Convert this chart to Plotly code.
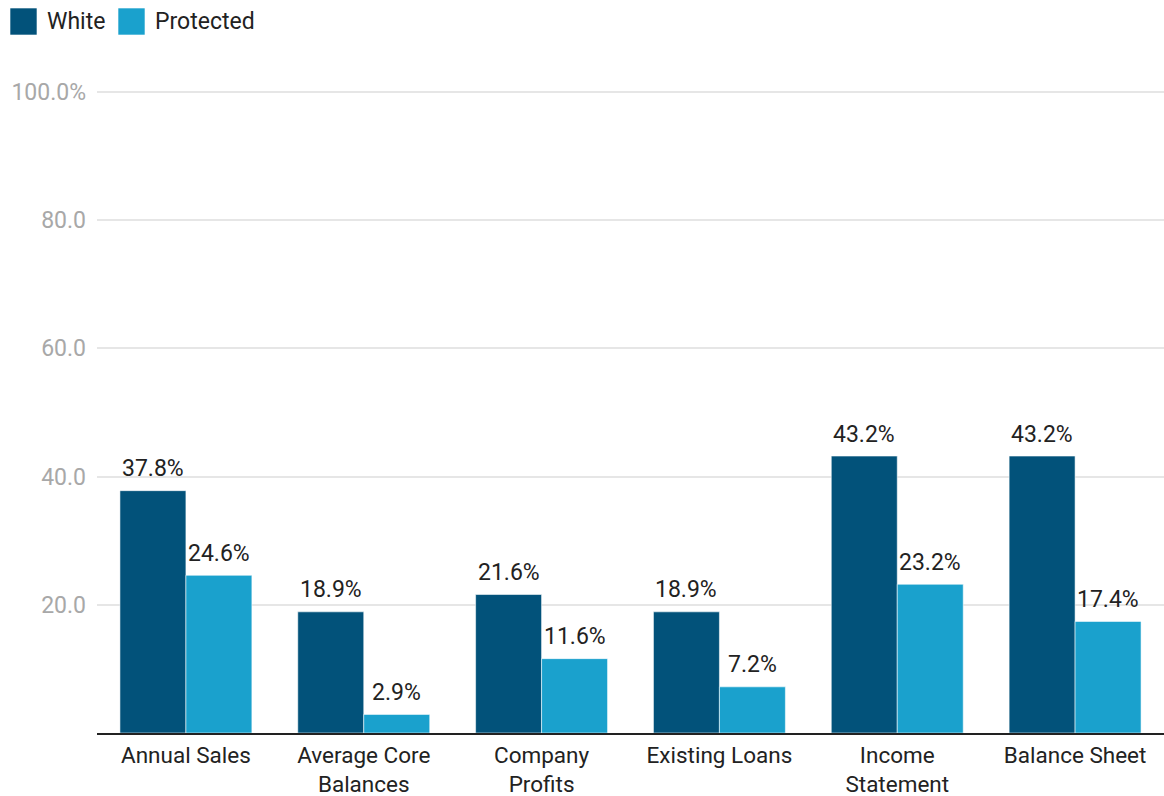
import plotly.graph_objects as go

# Data
categories = ["Annual Sales", "Average Core<br>Balances", "Company<br>Profits",
              "Existing Loans", "Income<br>Statement", "Balance Sheet"]
white_vals = [37.8, 18.9, 21.6, 18.9, 43.2, 43.2]
protected_vals = [24.6, 2.9, 11.6, 7.2, 23.2, 17.4]
series_names = ["White", "Protected"]
tick_vals = [20, 40, 60, 80, 100]
tick_text = ["20.0", "40.0", "60.0", "80.0", "100.0%"]

COLORS = ["#02527a", "#1aa1cd"]
FONT = "Roboto"
FS = 23
W, H = 1164, 796
ML, MR, MT, MB = 97, 0, 90, 63
Y_MAX = 100.3
BARGAP = 0.258

fig = go.Figure()
for name, vals, col in zip(series_names, [white_vals, protected_vals], COLORS):
    fig.add_trace(go.Bar(
        name=name, x=categories, y=vals,
        marker=dict(color=col, line=dict(color="rgba(255,255,255,0.55)", width=1)),
        hoverinfo="skip",
    ))

# value labels above each bar
bar_w = (1 - BARGAP) / 2
for s, vals in enumerate([white_vals, protected_vals]):
    off = (s - 0.5) * bar_w
    for i, v in enumerate(vals):
        fig.add_annotation(
            x=i + off, y=v, xref="x", yref="y",
            text=f"{v:.1f}%", showarrow=False,
            yanchor="middle", yshift=22,
            font=dict(family=FONT, size=FS, color="#222222"),
        )

# custom legend with large swatches (pixel -> paper coordinates)
pw, ph = W - ML - MR, H - MT - MB
def px_x(p):
    return (p - ML) / pw
def px_y(p):
    return (H - MB - p) / ph

legend_items = [(10, 45), (118, 153)]
for (sx, tx), name, col in zip(legend_items, series_names, COLORS):
    fig.add_shape(type="rect", xref="paper", yref="paper",
                  x0=px_x(sx), x1=px_x(sx + 27), y0=px_y(35), y1=px_y(8),
                  fillcolor=col, line=dict(color="rgba(255,255,255,0.6)", width=1))
    fig.add_annotation(x=px_x(tx), y=px_y(21.5), xref="paper", yref="paper",
                       text=name, showarrow=False, xanchor="left", yanchor="middle",
                       font=dict(family=FONT, size=FS, color="#222222"))

fig.update_layout(
    width=W, height=H,
    margin=dict(l=ML, r=MR, t=MT, b=MB),
    barmode="group", bargap=BARGAP, bargroupgap=0,
    showlegend=False,
    plot_bgcolor="white", paper_bgcolor="white",
    font=dict(family=FONT, size=FS, color="#222222"),
)
fig.update_xaxes(
    automargin=False,
    showgrid=False, showline=True, linecolor="#222222", linewidth=2,
    ticks="", ticklabelstandoff=1,
    tickfont=dict(family=FONT, size=22.5, color="#222222"),
)
fig.update_yaxes(
    automargin=False,
    range=[0, Y_MAX], tickvals=tick_vals, ticktext=tick_text,
    showgrid=True, gridcolor="#e6e6e6", gridwidth=1.5,
    zeroline=False, showline=False, ticks="",
    ticklabelstandoff=10,
    tickfont=dict(family=FONT, size=FS, color="#a8a8a8"),
)

fig.write_html("out.html")
